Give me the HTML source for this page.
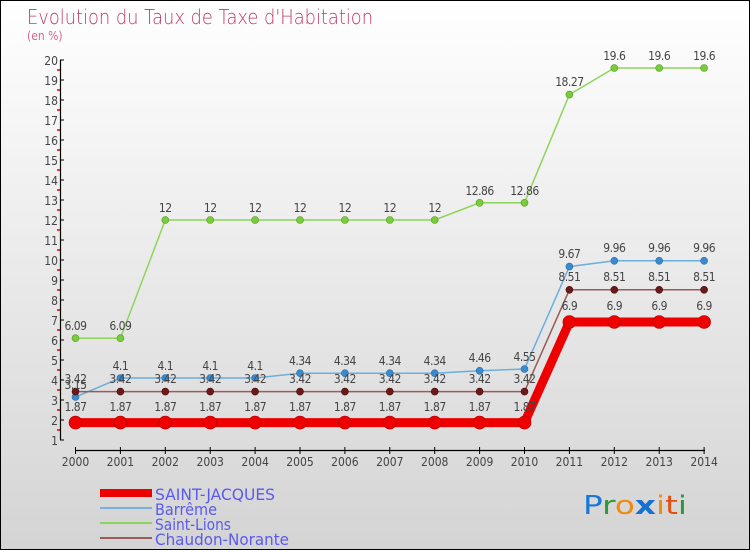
<!DOCTYPE html><html><head><meta charset="utf-8"><style>
body{margin:0}
#c{width:748px;height:548px;border:1px solid #000;background:linear-gradient(#fff,#d4d4d4);position:relative;font-family:"DejaVu Sans","Liberation Sans",sans-serif}
text{font-family:"DejaVu Sans Condensed","Liberation Sans",sans-serif}
</style></head><body><div id="c">
<svg width="748" height="548" viewBox="1 1 748 548" xmlns="http://www.w3.org/2000/svg">
<text x="27" y="24" font-size="20" fill="#c03865" textLength="346" lengthAdjust="spacingAndGlyphs" style="font-family:'DejaVu Sans','Liberation Sans',sans-serif;font-weight:200">Evolution du Taux de Taxe d'Habitation</text>
<text x="27" y="40" font-size="12" fill="#d06a8a">(en %)</text>
<g stroke="#000" stroke-width="1.2">
<line x1="60.5" y1="60" x2="60.5" y2="440"/>
<line x1="75" y1="450.5" x2="705" y2="450.5"/>
</g>
<g stroke="#000" id="yt">
<line x1="60" y1="60" x2="64" y2="60"/><line x1="60" y1="80" x2="64" y2="80"/><line x1="60" y1="100" x2="64" y2="100"/><line x1="60" y1="120" x2="64" y2="120"/><line x1="60" y1="140" x2="64" y2="140"/><line x1="60" y1="160" x2="64" y2="160"/><line x1="60" y1="180" x2="64" y2="180"/><line x1="60" y1="200" x2="64" y2="200"/><line x1="60" y1="220" x2="64" y2="220"/><line x1="60" y1="240" x2="64" y2="240"/><line x1="60" y1="260" x2="64" y2="260"/><line x1="60" y1="280" x2="64" y2="280"/><line x1="60" y1="300" x2="64" y2="300"/><line x1="60" y1="320" x2="64" y2="320"/><line x1="60" y1="340" x2="64" y2="340"/><line x1="60" y1="360" x2="64" y2="360"/><line x1="60" y1="380" x2="64" y2="380"/><line x1="60" y1="400" x2="64" y2="400"/><line x1="60" y1="420" x2="64" y2="420"/><line x1="60" y1="440" x2="64" y2="440"/>
</g>
<g stroke="#ff0000" stroke-width="1.6">
<line x1="57" y1="70" x2="60" y2="70"/><line x1="57" y1="90" x2="60" y2="90"/><line x1="57" y1="110" x2="60" y2="110"/><line x1="57" y1="130" x2="60" y2="130"/><line x1="57" y1="150" x2="60" y2="150"/><line x1="57" y1="170" x2="60" y2="170"/><line x1="57" y1="190" x2="60" y2="190"/><line x1="57" y1="210" x2="60" y2="210"/><line x1="57" y1="230" x2="60" y2="230"/><line x1="57" y1="250" x2="60" y2="250"/><line x1="57" y1="270" x2="60" y2="270"/><line x1="57" y1="290" x2="60" y2="290"/><line x1="57" y1="310" x2="60" y2="310"/><line x1="57" y1="330" x2="60" y2="330"/><line x1="57" y1="350" x2="60" y2="350"/><line x1="57" y1="370" x2="60" y2="370"/><line x1="57" y1="390" x2="60" y2="390"/><line x1="57" y1="410" x2="60" y2="410"/><line x1="57" y1="430" x2="60" y2="430"/>
</g>
<g font-size="12" fill="#444" text-anchor="end">
<text x="58" y="65">20</text><text x="58" y="85">19</text><text x="58" y="105">18</text><text x="58" y="125">17</text><text x="58" y="145">16</text><text x="58" y="165">15</text><text x="58" y="185">14</text><text x="58" y="205">13</text><text x="58" y="225">12</text><text x="58" y="245">11</text><text x="58" y="265">10</text><text x="58" y="285">9</text><text x="58" y="305">8</text><text x="58" y="325">7</text><text x="58" y="345">6</text><text x="58" y="365">5</text><text x="58" y="385">4</text><text x="58" y="405">3</text><text x="58" y="425">2</text><text x="58" y="445">1</text>
</g>
<g stroke="#000">
<line x1="75.5" y1="447" x2="75.5" y2="454"/><line x1="120.4" y1="447" x2="120.4" y2="454"/><line x1="165.3" y1="447" x2="165.3" y2="454"/><line x1="210.2" y1="447" x2="210.2" y2="454"/><line x1="255.1" y1="447" x2="255.1" y2="454"/><line x1="300" y1="447" x2="300" y2="454"/><line x1="344.9" y1="447" x2="344.9" y2="454"/><line x1="389.8" y1="447" x2="389.8" y2="454"/><line x1="434.7" y1="447" x2="434.7" y2="454"/><line x1="479.6" y1="447" x2="479.6" y2="454"/><line x1="524.5" y1="447" x2="524.5" y2="454"/><line x1="569.4" y1="447" x2="569.4" y2="454"/><line x1="614.3" y1="447" x2="614.3" y2="454"/><line x1="659.2" y1="447" x2="659.2" y2="454"/><line x1="704.1" y1="447" x2="704.1" y2="454"/>
</g>
<g font-size="12" fill="#444" text-anchor="middle">
<text x="75.5" y="466">2000</text><text x="120.4" y="466">2001</text><text x="165.3" y="466">2002</text><text x="210.2" y="466">2003</text><text x="255.1" y="466">2004</text><text x="300" y="466">2005</text><text x="344.9" y="466">2006</text><text x="389.8" y="466">2007</text><text x="434.7" y="466">2008</text><text x="479.6" y="466">2009</text><text x="524.5" y="466">2010</text><text x="569.4" y="466">2011</text><text x="614.3" y="466">2012</text><text x="659.2" y="466">2013</text><text x="704.1" y="466">2014</text>
</g>
<polyline fill="none" stroke="#8fd45a" stroke-width="1.5" points="75.5,338.2 120.4,338.2 165.3,220 210.2,220 255.1,220 300,220 344.9,220 389.8,220 434.7,220 479.6,202.8 524.5,202.8 569.4,94.6 614.3,68 659.2,68 704.1,68"/>
<g fill="#7acc3a" stroke="#4a9a20" stroke-width="0.6">
<circle cx="75.5" cy="338.2" r="3.5"/><circle cx="120.4" cy="338.2" r="3.5"/><circle cx="165.3" cy="220" r="3.5"/><circle cx="210.2" cy="220" r="3.5"/><circle cx="255.1" cy="220" r="3.5"/><circle cx="300" cy="220" r="3.5"/><circle cx="344.9" cy="220" r="3.5"/><circle cx="389.8" cy="220" r="3.5"/><circle cx="434.7" cy="220" r="3.5"/><circle cx="479.6" cy="202.8" r="3.5"/><circle cx="524.5" cy="202.8" r="3.5"/><circle cx="569.4" cy="94.6" r="3.5"/><circle cx="614.3" cy="68" r="3.5"/><circle cx="659.2" cy="68" r="3.5"/><circle cx="704.1" cy="68" r="3.5"/>
</g>
<polyline fill="none" stroke="#6aaede" stroke-width="1.5" points="75.5,397 120.4,378 165.3,378 210.2,378 255.1,378 300,373.2 344.9,373.2 389.8,373.2 434.7,373.2 479.6,370.8 524.5,369 569.4,266.6 614.3,260.8 659.2,260.8 704.1,260.8"/>
<g fill="#3a8ad0" stroke="#2a6aa0" stroke-width="0.6">
<circle cx="75.5" cy="397" r="3.5"/><circle cx="120.4" cy="378" r="3.5"/><circle cx="165.3" cy="378" r="3.5"/><circle cx="210.2" cy="378" r="3.5"/><circle cx="255.1" cy="378" r="3.5"/><circle cx="300" cy="373.2" r="3.5"/><circle cx="344.9" cy="373.2" r="3.5"/><circle cx="389.8" cy="373.2" r="3.5"/><circle cx="434.7" cy="373.2" r="3.5"/><circle cx="479.6" cy="370.8" r="3.5"/><circle cx="524.5" cy="369" r="3.5"/><circle cx="569.4" cy="266.6" r="3.5"/><circle cx="614.3" cy="260.8" r="3.5"/><circle cx="659.2" cy="260.8" r="3.5"/><circle cx="704.1" cy="260.8" r="3.5"/>
</g>
<polyline fill="none" stroke="#9a5a5a" stroke-width="1.5" points="75.5,391.6 120.4,391.6 165.3,391.6 210.2,391.6 255.1,391.6 300,391.6 344.9,391.6 389.8,391.6 434.7,391.6 479.6,391.6 524.5,391.6 569.4,289.8 614.3,289.8 659.2,289.8 704.1,289.8"/>
<g fill="#6a1a1a" stroke="#4a0a0a" stroke-width="0.6">
<circle cx="75.5" cy="391.6" r="3.5"/><circle cx="120.4" cy="391.6" r="3.5"/><circle cx="165.3" cy="391.6" r="3.5"/><circle cx="210.2" cy="391.6" r="3.5"/><circle cx="255.1" cy="391.6" r="3.5"/><circle cx="300" cy="391.6" r="3.5"/><circle cx="344.9" cy="391.6" r="3.5"/><circle cx="389.8" cy="391.6" r="3.5"/><circle cx="434.7" cy="391.6" r="3.5"/><circle cx="479.6" cy="391.6" r="3.5"/><circle cx="524.5" cy="391.6" r="3.5"/><circle cx="569.4" cy="289.8" r="3.5"/><circle cx="614.3" cy="289.8" r="3.5"/><circle cx="659.2" cy="289.8" r="3.5"/><circle cx="704.1" cy="289.8" r="3.5"/>
</g>
<polyline fill="none" stroke="#ee0000" stroke-width="9" points="75.5,422.6 120.4,422.6 165.3,422.6 210.2,422.6 255.1,422.6 300,422.6 344.9,422.6 389.8,422.6 434.7,422.6 479.6,422.6 524.5,422.6 569.4,322 614.3,322 659.2,322 704.1,322"/>
<g fill="#ee0000" stroke="#b00000" stroke-width="0.6">
<circle cx="75.5" cy="422.6" r="6.5"/><circle cx="120.4" cy="422.6" r="6.5"/><circle cx="165.3" cy="422.6" r="6.5"/><circle cx="210.2" cy="422.6" r="6.5"/><circle cx="255.1" cy="422.6" r="6.5"/><circle cx="300" cy="422.6" r="6.5"/><circle cx="344.9" cy="422.6" r="6.5"/><circle cx="389.8" cy="422.6" r="6.5"/><circle cx="434.7" cy="422.6" r="6.5"/><circle cx="479.6" cy="422.6" r="6.5"/><circle cx="524.5" cy="422.6" r="6.5"/><circle cx="569.4" cy="322" r="6.5"/><circle cx="614.3" cy="322" r="6.5"/><circle cx="659.2" cy="322" r="6.5"/><circle cx="704.1" cy="322" r="6.5"/>
</g>
<g font-size="12" fill="#444" text-anchor="middle" style="letter-spacing:-0.5px">
<text x="75.5" y="330">6.09</text><text x="120.4" y="330">6.09</text><text x="165.3" y="212">12</text><text x="210.2" y="212">12</text><text x="255.1" y="212">12</text><text x="300" y="212">12</text><text x="344.9" y="212">12</text><text x="389.8" y="212">12</text><text x="434.7" y="212">12</text><text x="479.6" y="195">12.86</text><text x="524.5" y="195">12.86</text><text x="569.4" y="86">18.27</text><text x="614.3" y="60">19.6</text><text x="659.2" y="60">19.6</text><text x="704.1" y="60">19.6</text>
<text x="75.5" y="389">3.15</text><text x="120.4" y="370">4.1</text><text x="165.3" y="370">4.1</text><text x="210.2" y="370">4.1</text><text x="255.1" y="370">4.1</text><text x="300" y="365">4.34</text><text x="344.9" y="365">4.34</text><text x="389.8" y="365">4.34</text><text x="434.7" y="365">4.34</text><text x="479.6" y="362">4.46</text><text x="524.5" y="361">4.55</text><text x="569.4" y="258">9.67</text><text x="614.3" y="252">9.96</text><text x="659.2" y="252">9.96</text><text x="704.1" y="252">9.96</text>
<text x="75.5" y="383">3.42</text><text x="120.4" y="383">3.42</text><text x="165.3" y="383">3.42</text><text x="210.2" y="383">3.42</text><text x="255.1" y="383">3.42</text><text x="300" y="383">3.42</text><text x="344.9" y="383">3.42</text><text x="389.8" y="383">3.42</text><text x="434.7" y="383">3.42</text><text x="479.6" y="383">3.42</text><text x="524.5" y="383">3.42</text><text x="569.4" y="281">8.51</text><text x="614.3" y="281">8.51</text><text x="659.2" y="281">8.51</text><text x="704.1" y="281">8.51</text>
<text x="75.5" y="411">1.87</text><text x="120.4" y="411">1.87</text><text x="165.3" y="411">1.87</text><text x="210.2" y="411">1.87</text><text x="255.1" y="411">1.87</text><text x="300" y="411">1.87</text><text x="344.9" y="411">1.87</text><text x="389.8" y="411">1.87</text><text x="434.7" y="411">1.87</text><text x="479.6" y="411">1.87</text><text x="524.5" y="411">1.87</text><text x="569.4" y="310">6.9</text><text x="614.3" y="310">6.9</text><text x="659.2" y="310">6.9</text><text x="704.1" y="310">6.9</text>
</g>
<rect x="100" y="489" width="52" height="8" fill="#ee0000"/>
<line x1="100" y1="508" x2="152" y2="508" stroke="#7ab0dc" stroke-width="2"/>
<line x1="100" y1="523" x2="152" y2="523" stroke="#8fd45a" stroke-width="2"/>
<line x1="100" y1="538" x2="152" y2="538" stroke="#9a5a5a" stroke-width="2"/>
<g font-size="16" fill="#5a5aee">
<text x="155" y="500" textLength="120" lengthAdjust="spacingAndGlyphs">SAINT-JACQUES</text><text x="155" y="515" textLength="62" lengthAdjust="spacingAndGlyphs">Barrême</text><text x="155" y="530" textLength="76" lengthAdjust="spacingAndGlyphs">Saint-Lions</text><text x="155" y="545" textLength="134" lengthAdjust="spacingAndGlyphs">Chaudon-Norante</text>
</g>
<text x="583" y="514" font-size="26" textLength="104" lengthAdjust="spacingAndGlyphs" style="font-family:'DejaVu Sans',sans-serif"><tspan fill="#1a78d0">P</tspan><tspan fill="#2a9a3a">r</tspan><tspan fill="#f08a10">o</tspan><tspan fill="#1a70d0" font-weight="bold">x</tspan><tspan fill="#f08a10">i</tspan><tspan fill="#e05010">t</tspan><tspan fill="#2a9a3a">i</tspan></text>
</svg></div></body></html>
